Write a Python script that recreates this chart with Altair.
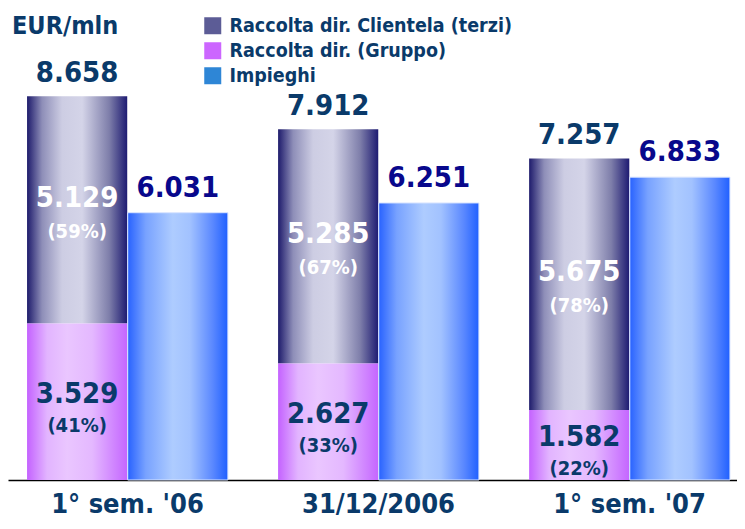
import altair as alt
import pandas as pd

categories = ["1° sem. '06", "31/12/2006", "1° sem. '07"]
clientela = [5129, 5285, 5675]
gruppo = [3529, 2627, 1582]
impieghi = [6031, 6251, 6833]
series_names = ["Raccolta dir. Clientela (terzi)", "Raccolta dir. (Gruppo)", "Impieghi"]

def fmt(v):
    return f"{v:,}".replace(",", ".")

rows = []
for c, cl, g, imp in zip(categories, clientela, gruppo, impieghi):
    tot = cl + g
    rows.append(dict(cat=c, cl=cl, g=g, imp=imp, tot=tot,
                     cl_mid=g + cl / 2, g_mid=g / 2,
                     tot_lbl=fmt(tot), imp_lbl=fmt(imp),
                     cl_lbl=fmt(cl), g_lbl=fmt(g),
                     cl_pct=f"({round(100 * cl / tot)}%)",
                     g_pct=f"({round(100 * g / tot)}%)"))
df = pd.DataFrame(rows)
leg_df = pd.DataFrame({"series": series_names, "cat": categories})

FONT = "DejaVu Sans Condensed"
NAVY = "#0A3A6A"
BLUE_TXT = "#08088C"

dark_grad = alt.LinearGradient(gradient="linear", x1=0, x2=1, y1=0, y2=0, stops=[
    alt.GradientStop(color="#1E1B6C", offset=0),
    alt.GradientStop(color="#8E8EB8", offset=0.15),
    alt.GradientStop(color="#CDCDE3", offset=0.35),
    alt.GradientStop(color="#D4D4E8", offset=0.55),
    alt.GradientStop(color="#7E7EAA", offset=0.82),
    alt.GradientStop(color="#1E1B72", offset=1)])
purple_grad = alt.LinearGradient(gradient="linear", x1=0, x2=1, y1=0, y2=0, stops=[
    alt.GradientStop(color="#C462FF", offset=0),
    alt.GradientStop(color="#E2B4FF", offset=0.2),
    alt.GradientStop(color="#EAC6FF", offset=0.4),
    alt.GradientStop(color="#E4B8FF", offset=0.65),
    alt.GradientStop(color="#C466FF", offset=1)])
blue_grad = alt.LinearGradient(gradient="linear", x1=0, x2=1, y1=0, y2=0, stops=[
    alt.GradientStop(color="#2862FF", offset=0),
    alt.GradientStop(color="#78A2FF", offset=0.18),
    alt.GradientStop(color="#AECCFF", offset=0.45),
    alt.GradientStop(color="#A2C2FF", offset=0.62),
    alt.GradientStop(color="#5A88FF", offset=0.85),
    alt.GradientStop(color="#2060FF", offset=1)])

xscale = alt.Scale(domain=categories, paddingInner=0.2, paddingOuter=0.052, align=0.73)
xenc = alt.X("cat:N", scale=xscale, sort=categories,
             axis=alt.Axis(title=None, labelAngle=0, ticks=False, domainColor="#000000",
                           domainWidth=1.5, labelFont=FONT, labelFontWeight="bold",
                           labelFontSize=27, labelColor=NAVY, labelPadding=11, grid=False))
yscale = alt.Scale(domain=[0, 10650], nice=False, zero=True)
yaxis = None
offscale = alt.Scale(domain=["A", "B"], paddingInner=0.005, paddingOuter=0)

base = alt.Chart(df)

def off(v):
    return alt.XOffset("s:N", scale=offscale)

dark = base.mark_bar(color=dark_grad).transform_calculate(s="'A'").encode(
    x=xenc, xOffset=off("A"),
    y=alt.Y("g:Q", scale=yscale, axis=yaxis), y2="tot:Q")
purple = base.mark_bar(color=purple_grad).transform_calculate(s="'A'").encode(
    x=xenc, xOffset=off("A"),
    y=alt.Y("g:Q", scale=yscale, axis=yaxis), y2=alt.Y2(datum=0))
blue = base.mark_bar(color=blue_grad, stroke="#D8E4FF", strokeWidth=1).transform_calculate(s="'B'").encode(
    x=xenc, xOffset=off("B"),
    y=alt.Y("imp:Q", scale=yscale, axis=yaxis), y2=alt.Y2(datum=0))

def txt(field, yfield, color, size, dy, s, baseline="middle"):
    return base.mark_text(font=FONT, fontWeight="bold", fontSize=size, color=color,
                          dy=dy, baseline=baseline).transform_calculate(s=f"'{s}'").encode(
        x=xenc, xOffset=off(s), y=alt.Y(f"{yfield}:Q", scale=yscale, axis=yaxis),
        text=f"{field}:N")

tot_t = txt("tot_lbl", "tot", NAVY, 29, -8, "A", "bottom")
imp_t = txt("imp_lbl", "imp", BLUE_TXT, 29, -10, "B", "bottom")
cl_t = txt("cl_lbl", "cl_mid", "#FFFFFF", 29, -12, "A")
clp_t = txt("cl_pct", "cl_mid", "#FFFFFF", 20, 22, "A")
g_t = txt("g_lbl", "g_mid", NAVY, 29, -8, "A")
gp_t = txt("g_pct", "g_mid", NAVY, 20, 24, "A")

unit = alt.Chart(pd.DataFrame({"t": ["EUR/mln"]})).mark_text(
    font=FONT, fontWeight="bold", fontSize=25, color=NAVY, align="left", baseline="middle").encode(
    x=alt.value(4), y=alt.value(18), text="t:N")

legend_layer = alt.Chart(leg_df).mark_square(opacity=0).encode(
    x=xenc, y=alt.value(0),
    color=alt.Color("series:N", sort=series_names,
                    scale=alt.Scale(domain=series_names, range=["#5C5C96", "#CC66FF", "#2E86D6"]),
                    legend=alt.Legend(title=None, orient="none", legendX=195, legendY=8,
                                      symbolType="square", symbolSize=289, symbolOpacity=1,
                                      symbolStrokeWidth=0, labelFont=FONT, labelFontWeight="bold",
                                      labelFontSize=19.5, labelColor=NAVY, labelOffset=7,
                                      rowPadding=4, padding=0, labelLimit=400)))

chart = alt.layer(dark, purple, blue, tot_t, imp_t, cl_t, clp_t, g_t, gp_t, unit, legend_layer).properties(
    width=729, height=472,
    autosize=alt.AutoSizeParams(type="none"),
    padding={"left": 0, "top": 0, "right": 0, "bottom": 41},
).configure_view(stroke=None).configure_axisY(grid=False)

chart.save("out.html", embed_options={"renderer": "svg", "actions": False})
